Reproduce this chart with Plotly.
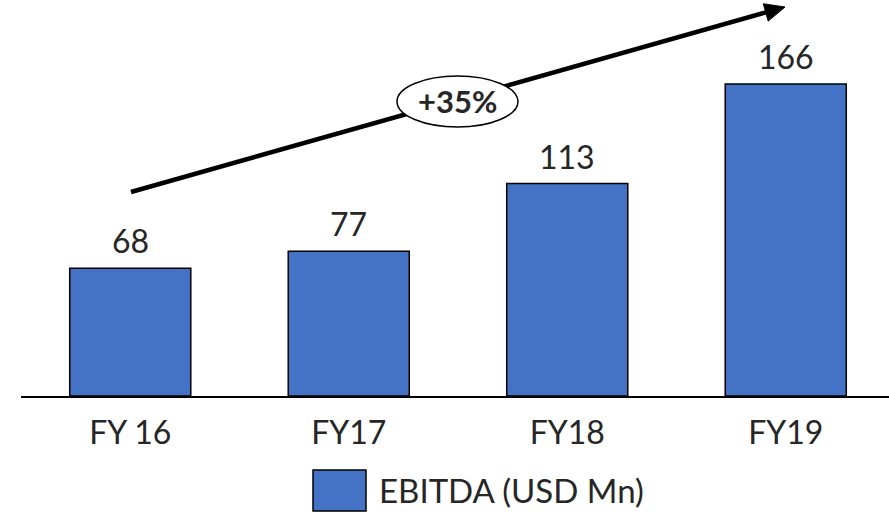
import math
import plotly.graph_objects as go

categories = ["FY 16", "FY17", "FY18", "FY19"]
ebitda = [68, 77, 113, 166]
value_labels = ["68", "77", "113", "166"]
series_name = "EBITDA (USD Mn)"
growth_label = "+35%"

W, H = 889, 515
L, R, T, B = 21, 0, 0, 119
pw, ph = W - L - R, H - T - B

def px(x):
    return (x - L) / pw

def py(y):
    return (H - B - y) / ph

FONT = "Lato"
TXT = "#262626"
BAR = "#4472C4"

fig = go.Figure()
fig.add_trace(go.Bar(
    x=categories, y=ebitda, name=series_name,
    marker=dict(color=BAR, line=dict(color="black", width=1.5)),
    showlegend=False,
))

annotations = []
for c, v, t in zip(categories, ebitda, value_labels):
    annotations.append(dict(x=c, y=v, xref="x", yref="y", text=t, showarrow=False,
                            xanchor="center", yanchor="bottom", yshift=6,
                            font=dict(family=FONT, size=32, color=TXT)))

# arrow
x0, y0, x1, y1 = 131, 192, 785, 7
dx, dy = x1 - x0, y1 - y0
ln = math.hypot(dx, dy)
ux, uy = dx / ln, dy / ln
nx, ny = -uy, ux
hl, hw = 20, 9
bx, by = x1 - hl * ux, y1 - hl * uy
shapes = [
    dict(type="line", xref="paper", yref="paper", x0=px(x0), y0=py(y0), x1=px(bx), y1=py(by),
         line=dict(color="black", width=4.5)),
    dict(type="path", xref="paper", yref="paper",
         path=f"M {px(x1)} {py(y1)} L {px(bx + hw*nx)} {py(by + hw*ny)} L {px(bx - hw*nx)} {py(by - hw*ny)} Z",
         fillcolor="black", line=dict(color="black", width=1)),
    dict(type="circle", xref="paper", yref="paper", x0=px(397), x1=px(518), y0=py(127), y1=py(76),
         fillcolor="white", line=dict(color="black", width=1.5)),
    # legend swatch
    dict(type="rect", xref="paper", yref="paper", x0=px(313), x1=px(366), y0=py(511), y1=py(470),
         fillcolor=BAR, line=dict(color="black", width=1.5)),
]
annotations.append(dict(x=px(457.5), y=py(101.5), xref="paper", yref="paper", text=f"<b>{growth_label}</b>",
                        showarrow=False, xanchor="center", yanchor="middle",
                        font=dict(family=FONT, size=31, color=TXT)))
annotations.append(dict(x=px(377), y=py(490), xref="paper", yref="paper", text=series_name,
                        showarrow=False, xanchor="left", yanchor="middle",
                        font=dict(family=FONT, size=33, color=TXT)))

fig.update_layout(
    width=W, height=H,
    margin=dict(l=L, r=R, t=T, b=B),
    paper_bgcolor="white", plot_bgcolor="white",
    bargap=0.446,
    shapes=shapes, annotations=annotations,
    xaxis=dict(range=[-0.5, -0.5 + pw / 218.5], showline=True, linecolor="black", linewidth=1.5,
               ticks="", showgrid=False, zeroline=False, ticklabelstandoff=8,
               tickfont=dict(family=FONT, size=32, color=TXT)),
    yaxis=dict(range=[0, ph / 1.88], visible=False, showgrid=False, zeroline=False),
)
fig.write_html("out.html", config={"displayModeBar": False},
               post_script="document.body.style.margin='0';")
